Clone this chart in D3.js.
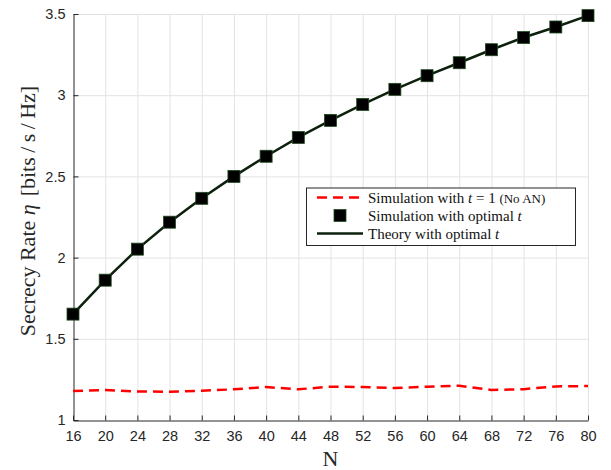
<!DOCTYPE html>
<html>
<head>
<meta charset="utf-8">
<script src="https://cdn.jsdelivr.net/npm/d3@7/dist/d3.min.js"></script>
<style>
  html, body { margin: 0; padding: 0; background: #fff; }
  svg { display: block; }
</style>
</head>
<body>
<script>
// Number of antennas N
const nValues = [16, 20, 24, 28, 32, 36, 40, 44, 48, 52, 56, 60, 64, 68, 72, 76, 80];
// Secrecy rate with t = 1 (no artificial noise), simulation
const rateNoAN = [1.178, 1.185, 1.176, 1.174, 1.180, 1.189, 1.203, 1.189, 1.205, 1.203, 1.197, 1.205, 1.211, 1.185, 1.190, 1.207, 1.209];
// Secrecy rate with optimal t, simulation
const rateSimOpt = [1.652, 1.861, 2.052, 2.218, 2.365, 2.500, 2.624, 2.740, 2.845, 2.943, 3.036, 3.120, 3.200, 3.280, 3.355, 3.420, 3.490];
// Secrecy rate with optimal t, theory
const rateTheoryOpt = [1.652, 1.861, 2.052, 2.218, 2.365, 2.500, 2.624, 2.740, 2.845, 2.943, 3.036, 3.120, 3.200, 3.280, 3.355, 3.420, 3.490];
const xTicks = [16, 20, 24, 28, 32, 36, 40, 44, 48, 52, 56, 60, 64, 68, 72, 76, 80];
const yTicks = [1, 1.5, 2, 2.5, 3, 3.5];

const W = 611, H = 470;
const m = { left: 73, right: 23, top: 14, bottom: 50 };

const svg = d3.select("body").append("svg").attr("width", W).attr("height", H);

const x = d3.scaleLinear().domain([16, 80]).range([m.left, W - m.right]);
const y = d3.scaleLinear().domain([1, 3.5]).range([H - m.bottom, m.top]);

// grid
const grid = svg.append("g").attr("stroke", "#e3e3e3").attr("stroke-width", 1);
grid.selectAll("line.gx").data(xTicks.slice(1)).join("line")
  .attr("x1", d => x(d) + 0.5).attr("x2", d => x(d) + 0.5)
  .attr("y1", y(1)).attr("y2", y(3.5));
grid.selectAll("line.gy").data(yTicks.slice(1)).join("line")
  .attr("y1", d => y(d) + 0.5).attr("y2", d => y(d) + 0.5)
  .attr("x1", x(16)).attr("x2", x(80));

// axes (ticks point inward)
const tickFont = "'Liberation Sans', Arial, sans-serif";
const xAxis = svg.append("g").attr("transform", `translate(0,${y(1) + 0.5})`)
  .call(d3.axisBottom(x).tickValues(xTicks).tickSizeInner(-5).tickSizeOuter(0).tickPadding(10));
const yAxis = svg.append("g").attr("transform", `translate(${x(16) + 0.5},0)`)
  .call(d3.axisLeft(y).tickValues(yTicks).tickSizeInner(-5).tickSizeOuter(0).tickPadding(8)
    .tickFormat(d => d3.format("")(d)));
[xAxis, yAxis].forEach(a => {
  a.selectAll("path.domain").attr("stroke", "#262626").attr("stroke-width", 1);
  a.selectAll(".tick line").attr("stroke", "#262626");
  a.selectAll("text").attr("fill", "#262626").style("font-family", tickFont).style("font-size", "14.5px");
});

// series
const lineGen = vals => d3.line().x((d, i) => x(nValues[i])).y(d => y(d))(vals);

svg.append("path").attr("d", lineGen(rateNoAN))
  .attr("fill", "none").attr("stroke", "#ff0000").attr("stroke-width", 2.5)
  .attr("stroke-dasharray", "10,6");

svg.append("path").attr("d", lineGen(rateTheoryOpt))
  .attr("fill", "none").attr("stroke", "#0d200d").attr("stroke-width", 2.5);

const s = 12;
svg.append("g").selectAll("rect").data(rateSimOpt).join("rect")
  .attr("x", (d, i) => x(nValues[i]) - s / 2).attr("y", d => y(d) - s / 2)
  .attr("width", s).attr("height", s)
  .attr("fill", "#000").attr("stroke", "#1e4a1e").attr("stroke-width", 0.8);

// axis titles
const serif = "'Liberation Serif', 'Times New Roman', serif";
svg.append("text").attr("x", x(48)).attr("y", 466).attr("text-anchor", "middle")
  .style("font-family", serif).style("font-size", "22px").attr("fill", "#262626").text("N");

const yl = svg.append("text")
  .attr("transform", `translate(35,211) rotate(-90)`)
  .attr("text-anchor", "middle")
  .style("font-family", serif).style("font-size", "22px").attr("fill", "#262626");
yl.append("tspan").text("Secrecy Rate ");
yl.append("tspan").style("font-style", "italic").text("η");
yl.append("tspan").attr("dx", 8).text("[bits\u2009/\u2009s\u2009/\u2009Hz]");

// legend
const lg = svg.append("g");
const lx = 306, ly = 187.5, lw = 269, lh = 57.5;
lg.append("rect").attr("x", lx + 0.5).attr("y", ly + 0.5).attr("width", lw).attr("height", lh)
  .attr("fill", "#fff").attr("stroke", "#262626").attr("stroke-width", 1);

const rows = [197.5, 215.5, 233.5];
const sx1 = lx + 11, sx2 = lx + 57, tx = lx + 62;
lg.append("line").attr("x1", sx1).attr("x2", sx2).attr("y1", rows[0]).attr("y2", rows[0])
  .attr("stroke", "#ff0000").attr("stroke-width", 2.5).attr("stroke-dasharray", "10,6");
lg.append("rect").attr("x", (sx1 + sx2) / 2 - s / 2).attr("y", rows[1] - s / 2)
  .attr("width", s).attr("height", s).attr("fill", "#000").attr("stroke", "#1e4a1e").attr("stroke-width", 0.8);
lg.append("line").attr("x1", sx1).attr("x2", sx2).attr("y1", rows[2]).attr("y2", rows[2])
  .attr("stroke", "#0d200d").attr("stroke-width", 2.5);

const legendText = (row, parts) => {
  const t = lg.append("text").attr("x", tx).attr("y", rows[row] + 5)
    .style("font-family", serif).style("font-size", "15px").attr("fill", "#111");
  parts.forEach(p => {
    const sp = t.append("tspan").text(p.t);
    if (p.i) sp.style("font-style", "italic");
    if (p.s) sp.style("font-size", p.s);
  });
};
legendText(0, [{ t: "Simulation with " }, { t: "t", i: true }, { t: " = 1 " }, { t: "(No AN)", s: "13px" }]);
legendText(1, [{ t: "Simulation with optimal " }, { t: "t", i: true }]);
legendText(2, [{ t: "Theory with optimal " }, { t: "t", i: true }]);
</script>
</body>
</html>
